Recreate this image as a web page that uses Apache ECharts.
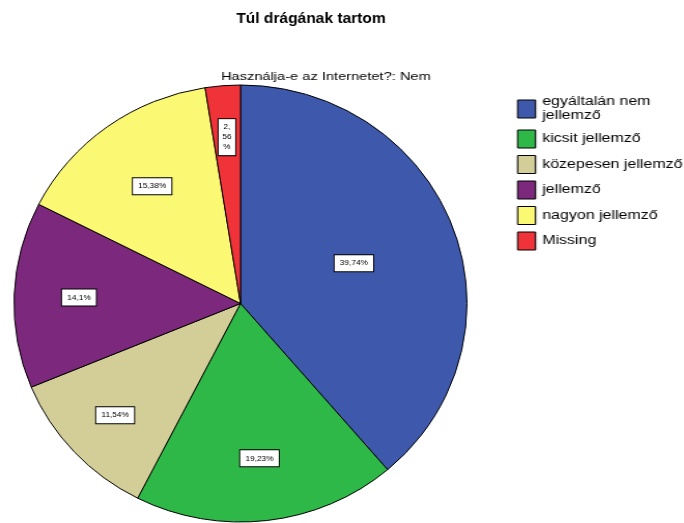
<!DOCTYPE html>
<html>
<head>
<meta charset="utf-8">
<title>Túl drágának tartom</title>
<script src="https://cdn.jsdelivr.net/npm/echarts@6/dist/echarts.min.js"></script>
<style>
  html, body { margin: 0; padding: 0; background: #fff; }
  #stage { position: relative; width: 684px; height: 523px; overflow: hidden; background: #fff; }
  /* the pie is drawn slightly wider than tall, the legend text is drawn wide */
  #pie  { position: absolute; left: 0; top: 0; width: 660px; height: 523px;
          transform: scaleX(1.0366); transform-origin: 0 0; }
  #side { position: absolute; left: 0; top: 0; width: 515px; height: 523px;
          transform: scaleX(1.33); transform-origin: 0 0; pointer-events: none; }
</style>
</head>
<body>
<div id="stage">
  <div id="pie"></div>
  <div id="side"></div>
</div>
<script>
// Response categories (SPSS value labels) and their case counts
const categories = [
  'egyáltalán nem jellemző',
  'kicsit jellemző',
  'közepesen jellemző',
  'jellemző',
  'nagyon jellemző',
  'Missing'
];
const counts = [31, 15, 9, 11, 12, 2];
const missingName = 'Missing';

const titleText = 'Túl drágának tartom';
const subtitleText = 'Használja-e az Internetet?: Nem';

// Slice colours
const colors = ['#3E58AC', '#2EB848', '#D3CE97', '#7C287D', '#FBF873', '#EF3338'];
// Radial position of each percentage label, as a fraction of the pie radius
const labelRadiusFrac = [0.52, 0.70, 0.74, 0.70, 0.65, 0.75];

// Percentages are shown relative to the valid (non-missing) cases
const validTotal = counts.reduce((s, v, i) => categories[i] === missingName ? s : s + v, 0);
function pctLabel(v) {
  let s = (v / validTotal * 100).toFixed(2);
  s = s.replace(/0+$/, '').replace(/\.$/, '');
  return s.replace('.', ',') + '%';
}

// Wrap long legend names onto a second line at the last space that fits
const LEGEND_WRAP_CHARS = 20;
function wrapName(name) {
  if (name.length <= LEGEND_WRAP_CHARS) return name;
  const cut = name.lastIndexOf(' ', LEGEND_WRAP_CHARS);
  return cut > 0 ? name.slice(0, cut) + '\n' + name.slice(cut + 1) : name;
}

const FONT = 'Arial, "Liberation Sans", Helvetica, sans-serif';
// Pie geometry in the (horizontally scaled) pie layer
const CX = 232, CY = 303.5, R = 218.5;

// ---- pie layer: title + slices + percentage labels ----
const pieChart = echarts.init(document.getElementById('pie'), null, { renderer: 'canvas' });

const series = [{
  name: 'main',
  type: 'pie',
  center: [CX, CY],
  radius: R,
  startAngle: 90,
  clockwise: true,
  avoidLabelOverlap: false,
  label: { show: false },
  labelLine: { show: false },
  itemStyle: { borderColor: '#000', borderWidth: 1 },
  emphasis: { disabled: true },
  silent: true,
  data: categories.map((name, i) => ({
    name,
    value: counts[i],
    itemStyle: { color: colors[i] }
  }))
}];

// One transparent overlay per slice so each label sits at its own radius
categories.forEach((name, i) => {
  series.push({
    name: 'label' + i,
    type: 'pie',
    center: [CX, CY],
    radius: [0, 2 * labelRadiusFrac[i] * R],
    startAngle: 90,
    clockwise: true,
    avoidLabelOverlap: false,
    silent: true,
    emphasis: { disabled: true },
    labelLine: { show: false },
    itemStyle: { color: 'rgba(0,0,0,0)', borderWidth: 0 },
    label: {
      show: true,
      position: 'inside',
      formatter: (p) => pctLabel(p.value),
      fontFamily: FONT,
      fontSize: 8,
      lineHeight: 10,
      color: '#000',
      backgroundColor: '#fff',
      borderColor: '#000',
      borderWidth: 1,
      padding: [3, 5]
    },
    data: categories.map((n, j) => {
      const item = { name: n, value: counts[j], label: { show: j === i } };
      if (j === i && n === missingName) {
        item.label.width = 10;
        item.label.overflow = 'breakAll';
        item.label.padding = [3, 3];
        item.label.align = 'center';
      }
      return item;
    })
  });
});

pieChart.setOption({
  animation: false,
  title: {
    text: titleText,
    left: 300,
    top: 11,
    padding: 0,
    textAlign: 'center',
    textStyle: { fontFamily: FONT, fontSize: 15, fontWeight: 'bold', color: '#000' }
  },
  series
});

// ---- side layer: subtitle + legend ----
const sideChart = echarts.init(document.getElementById('side'), null, { renderer: 'canvas' });
sideChart.setOption({
  animation: false,
  title: {
    text: subtitleText,
    left: 245,
    top: 71,
    padding: 0,
    textAlign: 'center',
    textStyle: { fontFamily: FONT, fontSize: 11, fontWeight: 'normal', color: '#000' }
  },
  legend: {
    orient: 'vertical',
    left: 388.7,
    top: 95,
    padding: 0,
    icon: 'rect',
    itemWidth: 13.5,
    itemHeight: 18,
    itemGap: 6.5,
    selectedMode: false,
    formatter: wrapName,
    itemStyle: { borderColor: '#000', borderWidth: 1 },
    textStyle: {
      fontFamily: FONT,
      fontSize: 12,
      lineHeight: 14,
      color: '#000'
    },
    data: categories.map((name, i) => ({ name, itemStyle: { color: colors[i] } }))
  },
  // legend entries need a series carrying the category names
  series: [{
    type: 'pie',
    radius: [0, 0],
    center: [-100, -100],
    silent: true,
    label: { show: false },
    labelLine: { show: false },
    data: categories.map((name, i) => ({ name, value: counts[i], itemStyle: { color: colors[i] } }))
  }]
});
</script>
</body>
</html>
